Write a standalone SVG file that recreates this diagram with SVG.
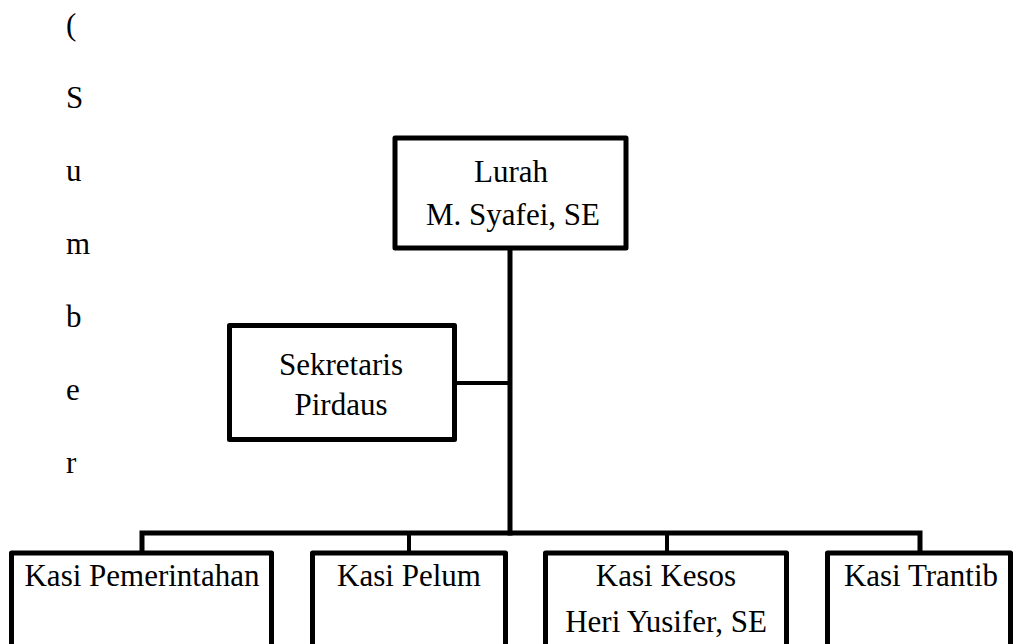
<svg xmlns="http://www.w3.org/2000/svg" width="1015" height="644" viewBox="0 0 1015 644">
<style>
.box{fill:#fff;stroke:#000;stroke-width:5;stroke-linejoin:round}
.c{fill:none;stroke:#000;stroke-width:5;stroke-linecap:square}
.thin{stroke-width:4}
</style>
<rect width="1015" height="644" fill="#fff"/>
<g id="source-text" font-family="Liberation Serif" font-size="31" fill="#000">
<text x="66" y="35">(</text>
<text x="66" y="108">S</text>
<text x="66" y="181">u</text>
<text x="66" y="254">m</text>
<text x="66" y="327">b</text>
<text x="66" y="400">e</text>
<text x="66" y="473">r</text>
</g>
<g id="connectors">
<path class="c" d="M510 250 V533"/>
<path class="c thin" d="M457 383 H510"/>
<path class="c" d="M142 553 V533 H920 V553"/>
<path class="c thin" d="M409 533 V553"/>
<path class="c thin" d="M667 533 V553"/>
</g>
<g font-family="Liberation Serif" font-size="31" fill="#000" text-anchor="middle">
<g id="lurah">
<rect class="box" x="395" y="138" width="231" height="110"/>
<text x="511" y="182">Lurah</text>
<text x="513" y="225">M. Syafei, SE</text>
</g>
<g id="sekretaris">
<rect class="box" x="229.500" y="325.500" width="225" height="114"/>
<text x="341" y="375">Sekretaris</text>
<text x="341" y="415">Pirdaus</text>
</g>
<g id="kasi-pemerintahan">
<rect class="box" x="11.500" y="553" width="260" height="110"/>
<text x="142" y="586">Kasi Pemerintahan</text>
</g>
<g id="kasi-pelum">
<rect class="box" x="312.500" y="553" width="193" height="110"/>
<text x="409" y="586">Kasi Pelum</text>
</g>
<g id="kasi-kesos">
<rect class="box" x="545.500" y="553" width="241" height="110"/>
<text x="666" y="586">Kasi Kesos</text>
<text x="666" y="632">Heri Yusifer, SE</text>
</g>
<g id="kasi-trantib">
<rect class="box" x="827.500" y="553" width="183" height="110"/>
<text x="921" y="586">Kasi Trantib</text>
</g>
</g>
</svg>
